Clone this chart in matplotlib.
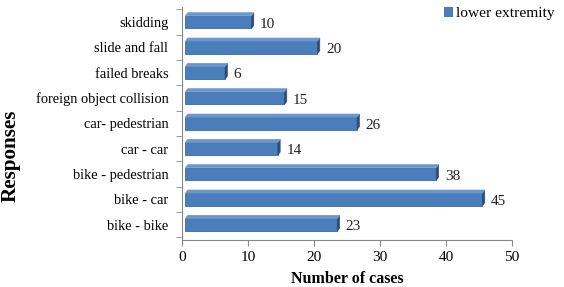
import matplotlib
matplotlib.use("Agg")
import matplotlib.pyplot as plt
from matplotlib.patches import Polygon

categories = ["bike - bike", "bike - car", "bike - pedestrian", "car - car",
              "car- pedestrian", "foreign object collision", "failed breaks",
              "slide and fall", "skidding"]
values = [23, 45, 38, 14, 26, 15, 6, 20, 10]
xticks = [0, 10, 20, 30, 40, 50]
series_name = "lower extremity"

plt.rcParams['font.family'] = ['Liberation Serif', 'DejaVu Serif']

fig = plt.figure(figsize=(5.64, 2.87), dpi=100)
ax = fig.add_axes([0.323, 0.164, 0.585, 0.812])

ypos = list(range(len(categories)))
h = 0.5
main = '#4a7ebb'
side = '#2c4d75'
top = '#6d97cc'
bars = ax.barh(ypos, values, height=h, left=0.5, color=main, edgecolor='#3a6aa3',
               linewidth=0.6, label=series_name, zorder=3)
dx, dy = 0.35, 0.12
for y, v in zip(ypos, values):
    x1 = v + 0.5
    ax.add_patch(Polygon([(x1, y - h/2), (x1 + dx, y - h/2 + dy), (x1 + dx, y + h/2 + dy), (x1, y + h/2)],
                         closed=True, facecolor=side, edgecolor=side, lw=0.5, zorder=4))
    ax.add_patch(Polygon([(0.5, y + h/2), (0.5 + dx, y + h/2 + dy), (x1 + dx, y + h/2 + dy), (x1, y + h/2)],
                         closed=True, facecolor=top, edgecolor=top, lw=0.5, zorder=4))
    ax.text(v + 1.8, y - 0.08, str(v), va='center', ha='left', fontsize=11, color='#222222')

ax.set_xlim(0, 50)
ax.set_ylim(-0.6, 8.6)
ax.set_xticks(xticks)
ax.set_xticklabels([str(t) for t in xticks], fontsize=11)
ax.set_yticks(ypos)
ax.set_yticklabels(categories, fontsize=10.4)
ax.set_yticks([i - 0.5 for i in range(len(categories) + 1)], minor=True)
ax.tick_params(axis='y', which='major', length=0, pad=10)
ax.tick_params(axis='y', which='minor', length=4, color='#888888')
ax.tick_params(axis='x', length=4, color='#888888', pad=4)
for s in ['top', 'right']:
    ax.spines[s].set_visible(False)
for s in ['left', 'bottom']:
    ax.spines[s].set_color('#888888')
    ax.spines[s].set_linewidth(0.8)

ax.set_xlabel("Number of cases", fontsize=11.5, fontweight='bold', labelpad=5)
ax.set_ylabel("Responses", fontsize=15.2, fontweight='bold')
ax.yaxis.set_label_coords(-0.49, 0.36)

leg = fig.legend(handles=[bars], labels=[series_name], loc='upper right',
                 bbox_to_anchor=(1.008, 1.025), frameon=False, fontsize=11.1,
                 handlelength=0.55, handleheight=0.55, handletextpad=0.25)

fig.savefig("out.png", dpi=100)
